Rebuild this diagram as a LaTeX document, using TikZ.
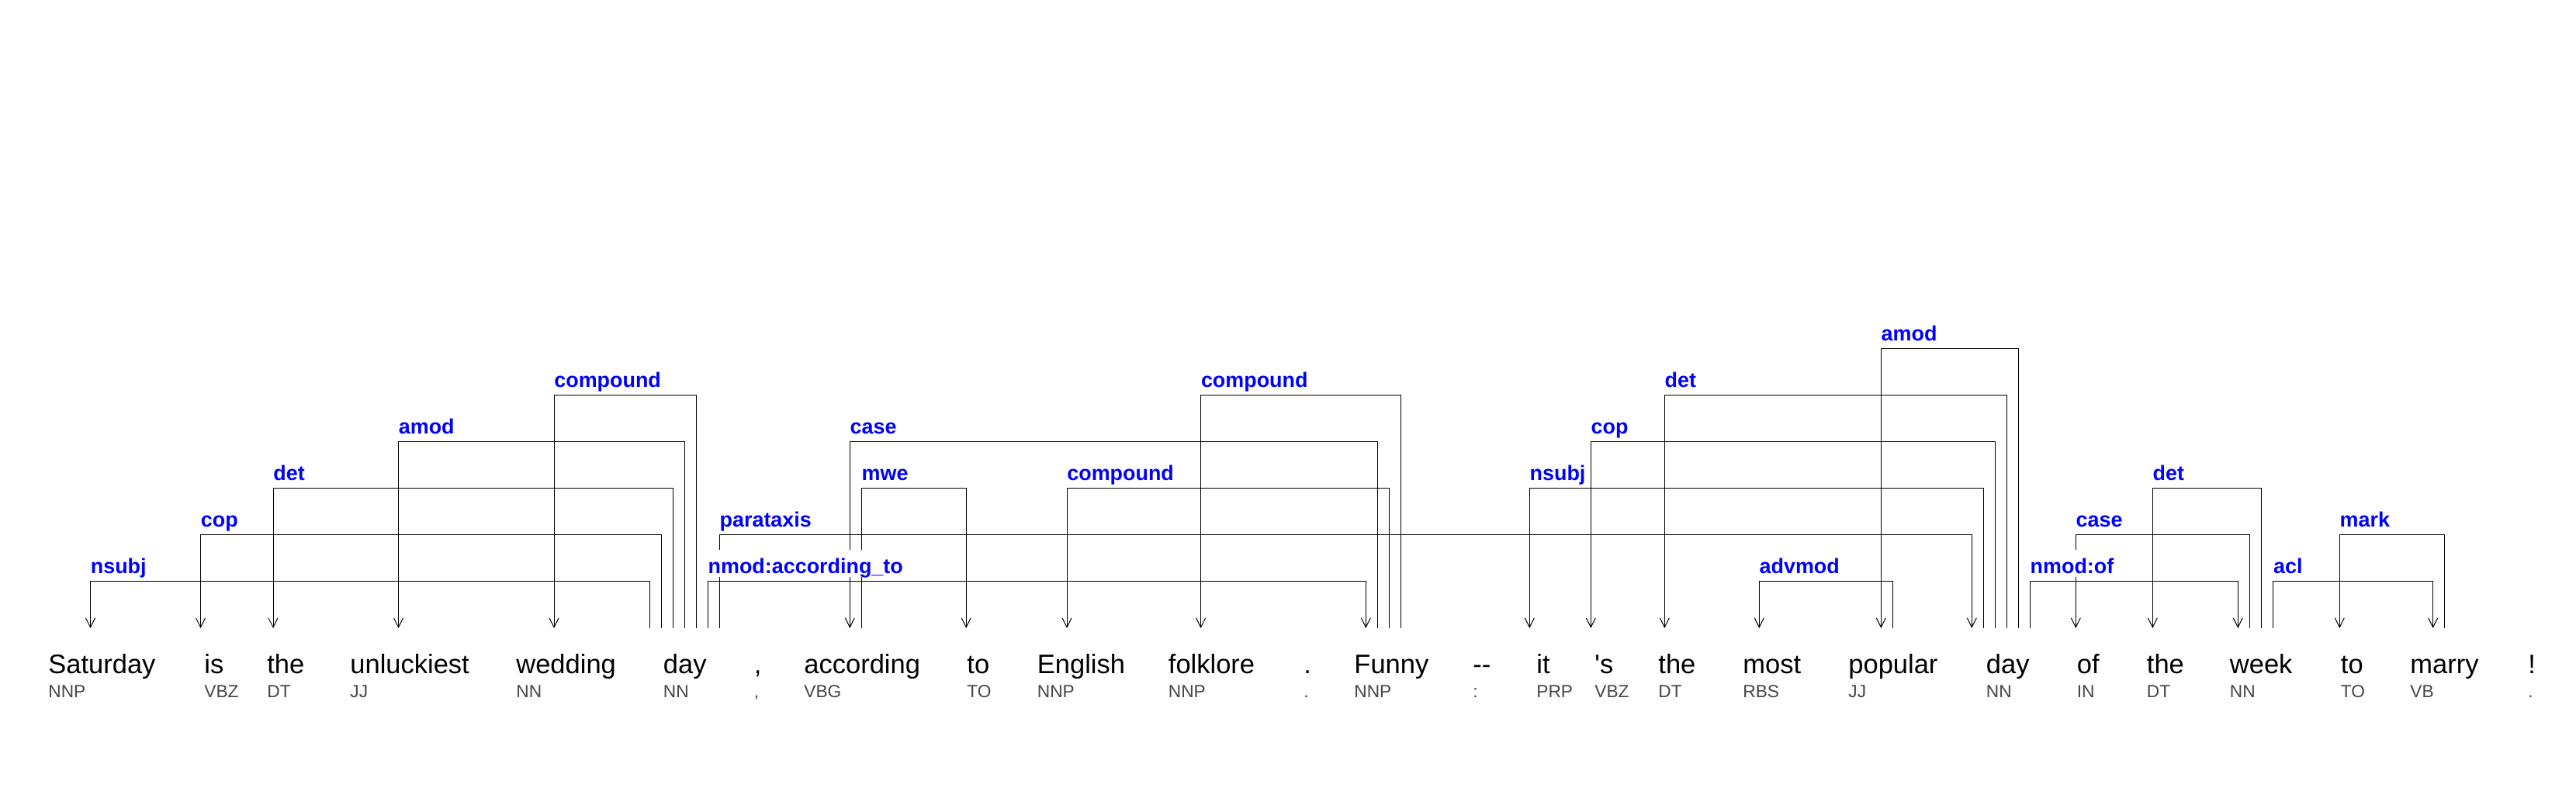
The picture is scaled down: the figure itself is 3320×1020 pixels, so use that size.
\documentclass[tikz,border=0pt]{standalone}
\usepackage{fontspec}
\setmainfont{Liberation Sans}
\usetikzlibrary{arrows.meta}
\pgfdeclarelayer{fg}
\pgfsetlayers{main,fg}
\definecolor{tagcol}{gray}{0.27}

\begin{document}
\begin{tikzpicture}[x=0.5pt, y=-0.5pt, >={Straight Barb[length=6pt,width=6pt]},
	word/.style={anchor=base west, inner sep=0pt, font=\fontsize{17.25}{20}\selectfont},
	tag/.style={anchor=base west, inner sep=0pt, text=tagcol, font=\fontsize{11.35}{13}\selectfont},
	rel/.style={anchor=base west, inner sep=0pt, text=blue, fill=white, text height=15.5pt, text depth=2pt, font=\fontsize{13.45}{16}\selectfont\bfseries},
	dep/.style={->, line width=0.5pt}]
	\useasboundingbox (0,0) rectangle (3320,1020);
	
	\foreach \x/\w/\p [count=\i] in {62/Saturday/NNP, 263/is/VBZ, 344/the/DT, 451/unluckiest/JJ,
		665/wedding/NN, 854.5/day/NN, 971.5/{,}/{,}, 1036/according/VBG, 1246/to/TO,
		1336.5/English/NNP, 1505.5/folklore/NNP, 1680/{.}/{.}, 1745/Funny/NNP, 1898/{-{}-}/{:},
		1980/it/PRP, 2055/{\textquotesingle s}/VBZ, 2137/the/DT, 2246/most/RBS, 2382/popular/JJ,
		2559.5/day/NN, 2676.5/of/IN, 2766.5/the/DT, 2873.5/week/NN, 3016.5/to/TO,
		3106/marry/VB, 3258/!/{.}}
	{
		\node[word] (w\i) at (\x,869) {\w};
		\node[tag] (p\i) at (\x,899.5) {\p};
	}
	
	\foreach \hd/\hs/\dd/\ds/\lv/\txt in {6/-17/1/54.5/1/nsubj, 6/-2/2/-4.5/2/cop, 6/13.2/3/8/3/det,
		6/27.8/4/62.5/4/amod, 6/42.8/5/49/5/compound, 6/57.8/13/15.3/1/nmod:according\_to,
		6/72.8/20/-18.2/2/parataxis, 13/30.3/8/59.3/4/case, 8/74.3/9/-0.8/3/mwe,
		13/45.3/10/38.5/3/compound, 13/60.3/11/42.1/5/compound, 20/-3.2/15/-8.7/3/nsubj,
		20/11.8/16/-4.7/4/cop, 20/26.8/17/8.3/5/det, 19/57.3/18/21.3/1/advmod,
		20/41.8/19/42.3/6/amod, 20/56.8/23/10.8/1/nmod:of, 23/25.8/21/-1.2/2/case,
		23/40.8/22/7.8/3/det, 23/56.2/25/29.7/1/acl, 25/44.3/24/-1.2/2/mark}
	{
		\draw[dep] ([shift={(\hs,-59)}]w\hd.base west) -- ++(0,-60*\lv) coordinate (hc)
			-| coordinate[pos=.5] (dc) ([shift={(\ds,-59)}]w\dd.base west);
		\ifnum\hd<\dd \def\lc{hc}\else\def\lc{dc}\fi
		\begin{pgfonlayer}{fg}
			\node[rel] at ([shift={(0,-10)}]\lc) {\txt};
		\end{pgfonlayer}
	}
\end{tikzpicture}
\end{document}
